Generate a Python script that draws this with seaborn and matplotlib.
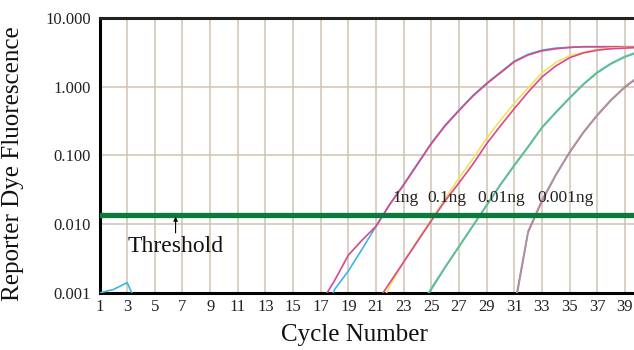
import numpy as np
import pandas as pd
import matplotlib
matplotlib.use("Agg")
import matplotlib.pyplot as plt
import seaborn as sns

# ---- data (log10 of fluorescence read per cycle; values < -3 lie below the axis) ----
cycles = list(range(1, 41))
LOW = -3.5

log_1ng_blue = ([-3.0, -2.95, -2.85, -3.3] + [LOW] * 12 +
                [-3.4, -2.95, -2.68, -2.36, -2.03, -1.71, -1.42, -1.12, -0.82, -0.56,
                 -0.34, -0.13, 0.05, 0.21, 0.37, 0.47, 0.53, 0.56, 0.57, 0.58,
                 0.58, 0.58, 0.58, 0.58])
log_1ng_mag = ([LOW] * 16 +
               [-3.15, -2.82, -2.45, -2.23, -2.03, -1.71, -1.43, -1.13, -0.83, -0.57,
                -0.35, -0.14, 0.04, 0.20, 0.36, 0.46, 0.52, 0.55, 0.57, 0.58,
                0.58, 0.58, 0.58, 0.58])
log_01ng_yel = ([LOW] * 20 +
                [-3.3, -2.90, -2.55, -2.23, -1.93, -1.63, -1.33, -1.05, -0.75, -0.49,
                 -0.24, -0.02, 0.20, 0.35, 0.45, 0.50, 0.54, 0.56, 0.57, 0.57])
log_01ng_mag = ([LOW] * 20 +
                [-3.15, -2.85, -2.55, -2.25, -1.95, -1.66, -1.40, -1.13, -0.83, -0.57,
                 -0.32, -0.08, 0.14, 0.30, 0.42, 0.49, 0.53, 0.55, 0.56, 0.57])
log_001ng_grn = ([LOW] * 23 +
                 [-3.3, -2.95, -2.63, -2.33, -2.03, -1.73, -1.43, -1.15, -0.88, -0.60,
                  -0.38, -0.17, 0.03, 0.20, 0.33, 0.43, 0.50, 0.53])
log_001ng_cyn = ([LOW] * 23 +
                 [-3.25, -2.93, -2.62, -2.32, -2.02, -1.72, -1.42, -1.14, -0.87, -0.59,
                  -0.37, -0.16, 0.04, 0.21, 0.34, 0.44, 0.51, 0.54])
log_0001ng_gry = ([LOW] * 30 +
                  [-3.2, -2.10, -1.65, -1.28, -0.95, -0.66, -0.41, -0.19, 0.0, 0.15])
log_0001ng_mag = ([LOW] * 30 +
                  [-3.25, -2.12, -1.67, -1.29, -0.96, -0.67, -0.42, -0.20, -0.01, 0.14])

series = {
    "1ng A": log_1ng_blue, "1ng B": log_1ng_mag,
    "0.1ng A": log_01ng_yel, "0.1ng B": log_01ng_mag,
    "0.01ng A": log_001ng_cyn, "0.01ng B": log_001ng_grn,
    "0.001ng A": log_0001ng_mag, "0.001ng B": log_0001ng_gry,
}
colors = {
    "1ng A": "#3fb6e2", "1ng B": "#d9488c",
    "0.1ng A": "#f3e25c", "0.1ng B": "#d9488c",
    "0.01ng A": "#58c4e0", "0.01ng B": "#62bd86",
    "0.001ng A": "#d9609a", "0.001ng B": "#a19a9c",
}
threshold = 0.0138
conc_labels = ["1ng", "0.1ng", "0.01ng", "0.001ng"]
conc_label_x = [22.2, 24.7, 28.3, 32.7]
conc_label_y = 0.024
xtick_vals = list(range(1, 40, 2))
ytick_vals = [0.001, 0.01, 0.1, 1, 10]
ytick_labels = ["0.001", "0.010", "0.100", "1.000", "10.000"]

rows = []
for name, vals in series.items():
    for c, v in zip(cycles, vals):
        rows.append({"cycle": c, "fluor": 10 ** v, "curve": name})
df = pd.DataFrame(rows)

# ---- style ----
sns.set_style("white")
plt.rcParams["font.family"] = ["Liberation Serif", "DejaVu Serif"]

fig = plt.figure(figsize=(6.34, 3.5), dpi=100)
ax = fig.add_axes([0.157, 0.163, 0.843, 0.786])

grid_col = "#cfc3b3"
for xv in xtick_vals:
    ax.axvline(xv, color=grid_col, lw=1.1, zorder=0)
for yv in ytick_vals:
    ax.axhline(yv, color=grid_col, lw=1.1, zorder=0)

sns.lineplot(data=df, x="cycle", y="fluor", hue="curve", hue_order=list(series.keys()),
             palette=colors, linewidth=1.2, legend=False, ax=ax, zorder=3)

ax.axhline(threshold, color="#0b7a3c", lw=3.8, zorder=4)

ax.set_yscale("log")
ax.set_ylim(0.001, 10)
ax.set_xlim(1, 39.66)
ax.set_yticks(ytick_vals)
ax.set_yticklabels(ytick_labels)
ax.yaxis.set_minor_locator(matplotlib.ticker.NullLocator())
ax.set_xticks(xtick_vals)
ax.set_xticklabels([str(v) for v in xtick_vals])
ax.tick_params(axis="both", length=0, labelsize=12, colors="#222222")
ax.tick_params(axis="y", pad=6)
ax.tick_params(axis="x", pad=4)

for side in ["left", "bottom", "top"]:
    ax.spines[side].set_visible(True)
    ax.spines[side].set_color("black")
    ax.spines[side].set_linewidth(2.2)
ax.spines["right"].set_visible(False)
ax.spines["top"].set_color("#222222")

ax.set_xlabel("Cycle Number", fontsize=18, color="#111111")
ax.set_ylabel("Reporter Dye Fluorescence", fontsize=18, color="#111111")
ax.xaxis.set_label_coords(0.476, -0.112)
ax.yaxis.set_label_coords(-0.142, 0.47)

ax.annotate("Threshold", xy=(6.5, threshold * 0.93), xytext=(6.5, 0.0047),
            ha="center", va="center", fontsize=17, color="#111111",
            arrowprops=dict(arrowstyle="-|>", color="black", lw=0.8,
                            mutation_scale=6, shrinkA=0, shrinkB=0), zorder=5)

for lab, xv in zip(conc_labels, conc_label_x):
    ax.text(xv, conc_label_y, lab, ha="left", va="center", fontsize=12.5,
            color="#222222", zorder=5)

fig.savefig("out.png", dpi=100)
